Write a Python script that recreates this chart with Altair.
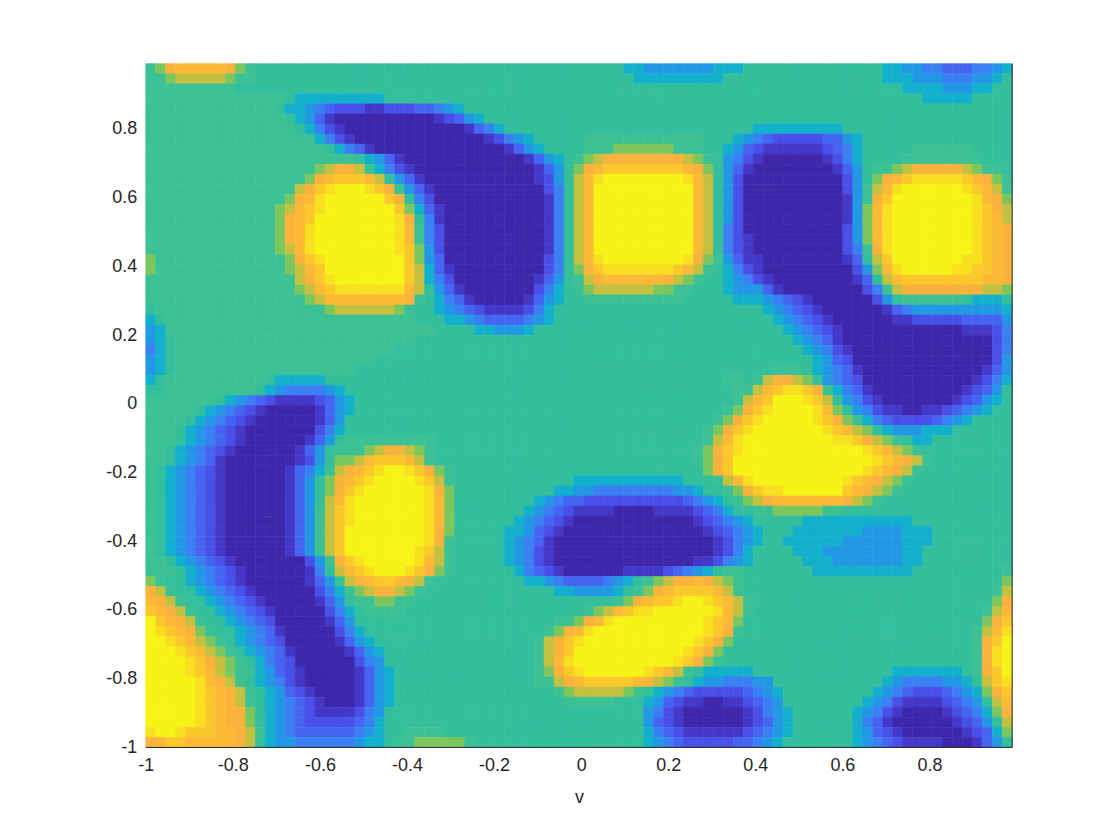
import altair as alt
import pandas as pd

# field level (hex digit: 0 = darkest blue, 7 = background teal, f = brightest yellow),
# read from the picture, top row first
rows = [
"89bcccccb9 8777777777 7777777777 7777777777 7777777766 5555555666 7777777777 7777665544 3334456",
"889aaaaa98 8777777777 7777777777 7777777777 7777777776 6666666677 7777777777 7777666555 4445567",
"8888888887 7777777777 7777777777 7777777777 7777777777 7777777777 7777777777 7777776666 5556677",
"8888888888 8888766666 6666777777 7777777777 7777777777 7777777777 7777777777 7777777766 6667777",
"8888888888 8887665432 2211222334 5677777777 7777777777 7777777777 7777777777 7777777777 7777777",
"8888888888 8888765310 0000000001 2356777777 7777777777 7777777777 7777777777 7777777777 7777777",
"8888888888 8888876421 0000000000 0013467777 7777777777 7777777777 7666666666 7777777777 7777777",
"8888888888 8888888642 1000000000 0000124567 7777888888 8888887776 5432222233 5677777777 7777777",
"8888888888 8888888876 4310000000 0000001356 7777888999 9998887765 3211111123 4677777888 8887777",
"8888888888 8888888888 8765310000 0000000013 56789abbbb bbbba98754 2100000012 4677778888 8888777",
"8888888888 88888889ab ba86421000 0000000001 3579bcdddd ddddcb9753 1000000001 357889abbb bba9887",
"8888888888 8888889bcd ddca753100 0000000001 257aceffff ffffeca752 0000000000 2579bcdeee eedcb98",
"8888888888 88888abdef ffedb85310 0000000000 247acfffff fffffca752 0000000000 258aceffff ffedca8",
"8888888888 88889bceff ffffdb7420 0000000000 147acfffff fffffca752 0000000000 158bdfffff fffecb9",
"8888888888 8889acdeff fffffd9631 0000000000 147acfffff fffffca752 0000000000 159cefffff fffedba",
"8888888888 8889bcdfff fffffeb741 0000000000 147acfffff fffffca752 0000000000 159cefffff fffedca",
"8888888888 8889bcefff fffffec842 0000000000 147acfffff fffffca742 0000000000 259cefffff fffedcb",
"8888888888 8889bcefff fffffec842 0000000000 147acfffff fffffca742 1000000000 259cefffff fffedcb",
"8888888888 8889acefff fffffed952 0000000000 147acfffff fffffca742 1000000000 248befffff fffedcb",
"9888888888 88889bdeff ffffffd953 0000000000 247aceffff ffffeb9853 1100000000 137adfffff ffeedcb",
"9888888888 88889acdff ffffffda63 1000000000 2479bdeeee eeedca8764 2100000000 0259ceffff feeddcb",
"8888888888 88888abdef ffffffda64 2000000001 3578abcccc ccba987765 4210000000 0137acdddd ddddccb",
"8888888888 888889acde eeeeeeca75 3100000002 46789aaaaa a998877765 5531000000 00248abbbb bbbbaa9",
"8888888888 8888889acc ccccccb876 4310000013 5677888888 8888777776 6654321000 0002578888 8876667",
"7888888888 888888889a aaaaa98776 5432111124 6777777777 7777777777 7765432100 0000134555 5555556",
"6788888888 8888888888 8888888777 6654333345 6777777777 7777777777 7776543210 0000011222 2233335",
"5688888888 8888888888 8888888887 7776655567 7777777777 7777777777 7777654321 0000000000 0011124",
"5678888888 8888888888 8888888777 7777777777 7777777777 7777777777 7777765431 0000000000 0000024",
"4678888888 8888888888 8888877777 7777777777 7777777777 7777777777 7777776542 1000000000 0000024",
"5678888888 8888888888 8887777777 7777777777 7777777777 7777777777 7777777653 2000000000 0000025",
"5678888888 8888888888 8777777777 7777777777 7777777777 7777777777 7778887654 3100000000 0000135",
"6788888888 8876666677 7777777777 7777777777 7777777777 7777777788 78abba9754 3200000000 0001246",
"7788888888 8765444456 7777777777 7777777777 7777777777 7777777778 8acdeedb86 4310000000 0012357",
"8888888765 4321111235 6777777777 7777777777 7777777777 7777777778 acdfffeda7 5421000000 0123567",
"8888876543 2100000135 6777777777 7777777777 7777777777 7777777789 bdeffffec9 7542110011 2345677",
"8888765432 1000000135 7777777777 7777777777 7777777777 777777789b defffffedb 9864322223 4567777",
"8887654321 0000000246 7777777777 7777777777 7777777777 77777789bd efffffffed ca97655566 6777777",
"8887654321 0000001357 8888888887 7777777777 7777777777 7777778ace fffffffffe edba987667 7777777",
"8876543210 0000013578 889abba987 7777777777 7777777777 7777789bde ffffffffff ffedca9877 7777777",
"8876543100 0000012579 9acdddca87 7777777777 7777777777 7777789bdf ffffffffff fffedcba87 7777777",
"8765432100 000013468a bcdeffedb9 8777777777 7777777777 7777779bdf ffffffffff ffedcba877 7777777",
"8765432100 000013579b cdeffffeda 8777777777 7776666666 666677 78ac efffffffff edcba98777 7777777",
"8765432100 000013579b deffffffeb 9777777777 7665544444 4445567789 bdeeffffff dcba987777 7777777",
"8765432100 0000135 7ac efffffffec 9777777776 5433222222 2222345678 9abccccccc ba98777777 7777777",
"8765432100 0000135 8ad efffffffec 9777777765 4321111000 0111123467 7889999988 7777777777 7777777",
"8765432100 0000135 8ad efffffffec 9777777654 3210000000 0000012345 6777776666 6666666777 7777777",
"8765432100 0000135 8ad ffffffffeb 9777776653 2100000000 0000001234 5677766666 6655556667 7777777",
"8765432100 0000135 8ad ffffffffeb 8777776543 1000000000 0000000124 5677666666 5555556667 7777777",
"8765432100 0000135 8ad fffffffeda 8777776542 1000000000 0000000124 6777766655 5555556677 7777777",
"8876543210 000000258b defffffeca 8777776542 1000000000 0000011245 6777776665 5555556677 7777777",
"8887654321 000000147a cdefffedb9 8777777643 2100000011 1123456788 7777777666 6666666777 7777778",
"9877654321 0000001358 abcddcba87 7777777766 5433334567 89abbcba98 7777777777 7777777777 7777779",
"ba87765432 1000000246 89abba9877 7777777777 7665555678 9bcddddca8 7777777777 7777777777 777778a",
"cba8776543 2100000135 7889988777 7777777777 777777789b cddeffedca 8777777777 7777777777 777779b",
"dcba877654 3210000024 6788887777 7777777777 777789acde effffffeca 8777777777 7777777777 77778ac",
"fdcba87765 4320000013 5777777777 7777777777 7889bcefff ffffffedc9 7777777777 7777777777 77779bd",
"fedcb98776 5431000002 4677777777 7777777777 89bcefffff ffffffedb8 7777777777 7777777777 7778ace",
"ffedca9876 5432000001 3567777777 7777777778 abdeffffff fffffedb97 7777777777 7777777777 7778bdf",
"fffedca987 6543100000 1356777777 7777777778 abdfffffff ffffedb977 7777777777 7777777777 7778bef",
"ffffedba98 7643200000 0245777777 7777777778 acefffffff fffedb9877 7777777777 7777777777 7778bef",
"ffffedca98 8653210000 0135677777 7777777778 9bdeffffff edca876666 6777777777 7777766666 6678bdf",
"fffffecba8 7654210000 0135677777 7777777778 8abcdddddc ba98765544 4557777777 7777654444 5567ade",
"fffffedcba 8765321000 0135677777 7777777777 789aaaaa98 7654322222 3456777777 7776543222 34569bd",
"fffffedcba 8765432100 0135677777 7777777777 7788888777 6532110011 2345777777 7765421111 23457ac",
"fffffedcbb 9765432111 1245777777 7777777777 7777777777 5421000000 1245677777 7654210000 123469b",
"fffffedcbb 9765432222 2346777777 7777777777 7777777777 5321000000 1235677777 7643100000 012357a",
"effedddccb a865433333 3456778888 7777777777 7777777777 6432111111 2345677777 7653210000 0012369",
"bcddcccccb a765544444 4566788999 9987777777 7777777777 6543222223 3456777777 7654321111 0001357",
]
x_ticks = [-1, -0.8, -0.6, -0.4, -0.2, 0, 0.2, 0.4, 0.6, 0.8]
y_ticks = [-1, -0.8, -0.6, -0.4, -0.2, 0, 0.2, 0.4, 0.6, 0.8]
levels = list("0123456789abcdef")
palette = ["#3e27aa", "#4338c8", "#4850e8", "#4664f2", "#3a80f2", "#2298e4", "#12b0cc",
           "#33be9c", "#3cc194", "#7cc65e", "#c4c040", "#fbb23c", "#fcb936", "#fbc82c",
           "#f8df20", "#f7f316"]
x_min, x_max = -1.0, 0.99
y_min, y_max = -1.0, 0.99

grid = [r.replace(" ", "") for r in rows]
nr = len(grid)
records = []
for i, r in enumerate(grid):
    nc = len(r)
    for j, ch in enumerate(r):
        records.append({
            "x0": x_min + j * (x_max - x_min) / nc,
            "x1": x_min + (j + 1) * (x_max - x_min) / nc,
            "y1": y_max - i * (y_max - y_min) / nr,
            "y0": y_max - (i + 1) * (y_max - y_min) / nr,
            "level": ch,
        })
df = pd.DataFrame(records)

W, H = 868, 685
label_expr = "'' + round(datum.value * 10) / 10"
font = "Liberation Sans"
ink = "#262626"
color_scale = alt.Scale(domain=levels, range=palette)

heat = alt.Chart(df).mark_rect(strokeWidth=0.6).encode(
    x=alt.X("x0:Q", scale=alt.Scale(domain=[x_min, x_max], nice=False, zero=False),
            axis=alt.Axis(values=x_ticks, labelExpr=label_expr, title="v", grid=False,
                          domain=False, ticks=False, labelPadding=9, labelFontSize=18,
                          labelFont=font, labelColor=ink, titleFont=font, titleFontSize=18,
                          titleColor=ink, titleFontWeight="normal", titlePadding=14,
                          labelFlush=False, labelOverlap=False)),
    x2="x1:Q",
    y=alt.Y("y0:Q", scale=alt.Scale(domain=[y_min, y_max], nice=False, zero=False),
            axis=alt.Axis(values=y_ticks, labelExpr=label_expr, title=None, grid=False,
                          domain=False, ticks=False, labelPadding=9, labelFontSize=18,
                          labelFont=font, labelColor=ink, labelFlush=False, labelOverlap=False)),
    y2="y1:Q",
    color=alt.Color("level:N", scale=color_scale, legend=None),
    stroke=alt.Stroke("level:N", scale=color_scale, legend=None),
)

bottom = alt.Chart(df.head(1)).mark_rule(color=ink, strokeWidth=1).encode(
    x=alt.value(0), x2=alt.value(W), y=alt.value(H))
right = alt.Chart(df.head(1)).mark_rule(color=ink, strokeWidth=1).encode(
    x=alt.value(W), y=alt.value(0), y2=alt.value(H))

chart = (heat + bottom + right).properties(
    width=W, height=H, autosize="none",
    padding={"left": 138, "top": 55, "right": 100, "bottom": 84},
    background="white",
).configure_view(stroke=None)

chart.save("out.html", embed_options={"renderer": "svg", "actions": False})
